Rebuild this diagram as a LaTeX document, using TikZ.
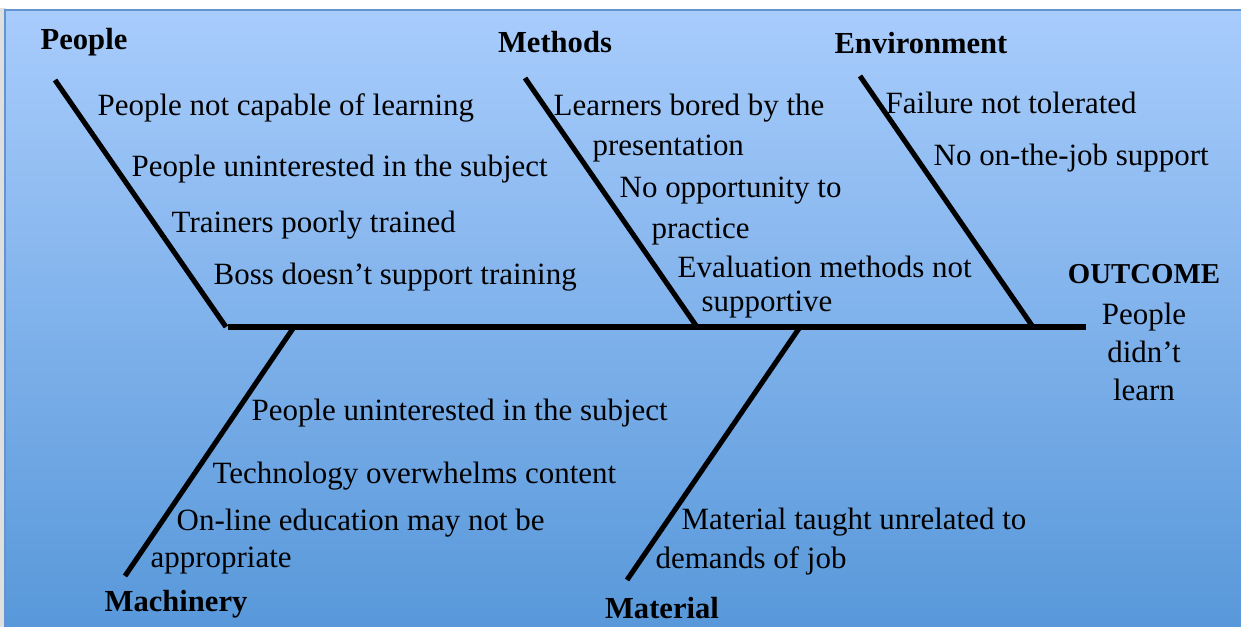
\documentclass[tikz,border=0pt]{standalone}
\usepackage{fontspec}
\setmainfont{Liberation Serif}
\usetikzlibrary{positioning}

\definecolor{skytop}{RGB}{168,204,252}
\definecolor{skybottom}{RGB}{88,152,218}
\definecolor{frameblue}{RGB}{98,148,208}

\begin{document}
\begin{tikzpicture}[x=0.01cm, y=-0.01cm,
    bone/.style={line width=1.45pt},
    category/.style={inner sep=0pt, font=\fontsize{8.7}{10}\selectfont\bfseries},
    cause/.style={inner sep=0pt, anchor=west, font=\fontsize{8.8}{10}\selectfont}
]
\useasboundingbox (0,0) rectangle (1241,627);

% panel
\fill[gray!25] (0,8) rectangle (6,627);
\shade[top color=skytop, bottom color=skybottom] (5,10) rectangle (1241,627);
\draw[frameblue, line width=0.6pt] (1241,10) -- (5,10) -- (5,627);

% spine and bones
\coordinate (spine) at (228,327);
\coordinate (head) at (1086,327);
\coordinate (peopleTop) at (55,80);
\coordinate (peopleEnd) at (226,327);
\coordinate (methodsTop) at (525,78);
\coordinate (methodsEnd) at (697,327);
\coordinate (envTop) at (860,76);
\coordinate (envEnd) at (1033,327);
\coordinate (machEnd) at (294,327);
\coordinate (machTop) at (125,576);
\coordinate (matEnd) at (800,327);
\coordinate (matTop) at (627,580);

\draw[bone] (spine) -- (head);
\draw[bone] (peopleTop) -- (peopleEnd);
\draw[bone] (methodsTop) -- (methodsEnd);
\draw[bone] (envTop) -- (envEnd);
\draw[bone] (machEnd) -- (machTop);
\draw[bone] (matEnd) -- (matTop);

% categories
\node[category] (people) at (84,42) {People};
\node[category] (methods) at (555,42) {Methods};
\node[category] (env) at (921,43) {Environment};
\node[category] (mach) at (176,604) {Machinery};
\node[category] (mat) at (662,608) {Material};
\node[category, font=\fontsize{8.2}{10}\selectfont\bfseries] (outcome) at (1144,274) {OUTCOME};
\node[inner sep=0pt, align=center, font=\fontsize{8.8}{10.9}\selectfont,
    below=5pt of outcome.south] (result) {People\\didn’t\\learn};

% people
\node[cause] (p1) at (97,108) {People not capable of learning};
\node[cause] (p2) at (131,169) {People uninterested in the subject};
\node[cause] (p3) at (171,225) {Trainers poorly trained};
\node[cause] (p4) at (213,277) {Boss doesn’t support training};

% methods
\node[cause] (m1) at (553,108) {Learners bored by the};
\node[cause] (m1b) at (592,149) {presentation};
\node[cause] (m2) at (619,191) {No opportunity to};
\node[cause] (m2b) at (651,232) {practice};
\node[cause] (m3) at (677,267) {Evaluation methods not};
\node[cause] (m3b) at (701,305) {supportive};

% environment
\node[cause] (e1) at (885,103) {Failure not tolerated};
\node[cause] (e2) at (933,158) {No on-the-job support};

% machinery
\node[cause] (c1) at (251,413) {People uninterested in the subject};
\node[cause] (c2) at (212,476) {Technology overwhelms content};
\node[cause] (c3) at (176,523) {On-line education may not be};
\node[cause] (c3b) at (150,561) {appropriate};

% material
\node[cause] (t1) at (681,522) {Material taught unrelated to};
\node[cause] (t1b) at (655,561) {demands of job};

\end{tikzpicture}
\end{document}
